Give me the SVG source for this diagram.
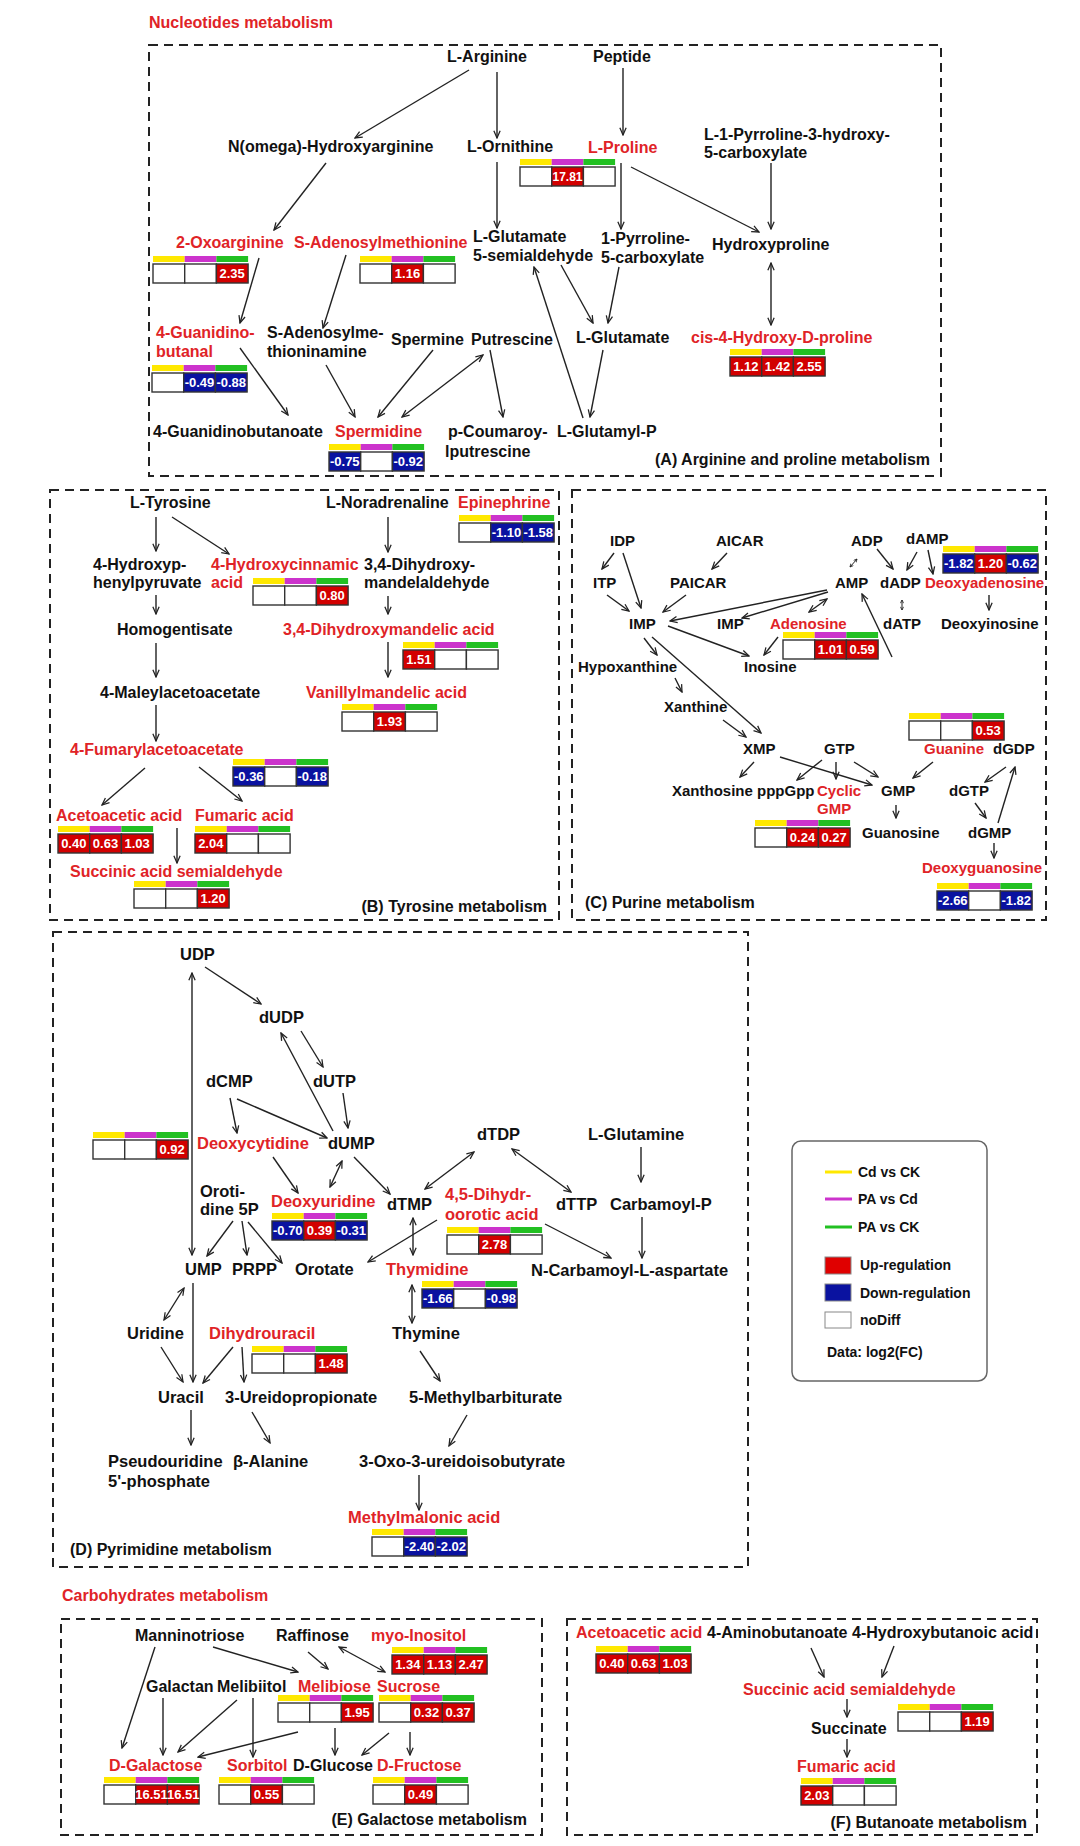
<svg xmlns="http://www.w3.org/2000/svg" xmlns:xlink="http://www.w3.org/1999/xlink" width="1080" height="1846" viewBox="0 0 1080 1846">
<style>
text{font-family:"Liberation Sans",Arial,sans-serif;font-weight:bold;font-size:16px;fill:#111}
.r{fill:#e02327}
.h{fill:#e02327}
.s15{font-size:15px}
.s165{font-size:16.5px}
.lg{font-size:14px}
.v{font-size:13px;fill:#fff;text-anchor:middle}
.end{text-anchor:end}
.box{fill:none;stroke:#222;stroke-width:2;stroke-dasharray:9 6}
.c{stroke:#333;stroke-width:1.4}
.w{fill:#fff}
.u{fill:#d20000}
.d{fill:#0a12a0}
#edges line{stroke:#222;stroke-width:1.4;marker-end:url(#ah)}
#edges line.b{marker-start:url(#ah)}
#edges line.t{stroke-width:1;marker-end:url(#ahs);marker-start:url(#ahs)}
</style>
<defs>
<marker id="ah" viewBox="0 0 10 10" refX="9" refY="5" markerWidth="9" markerHeight="9" markerUnits="userSpaceOnUse" orient="auto-start-reverse">
<path d="M1,1.5 L9,5 L1,8.5" fill="none" stroke="#222" stroke-width="1.4"/>
</marker>
<marker id="ahs" viewBox="0 0 10 10" refX="9" refY="5" markerWidth="4" markerHeight="4" markerUnits="userSpaceOnUse" orient="auto-start-reverse">
<path d="M1,1 L9,5 L1,9" fill="none" stroke="#222" stroke-width="2"/>
</marker>
<g id="bars">
<rect x="0" y="0" width="31.7" height="6" fill="#ffe800"/>
<rect x="31.7" y="0" width="31.7" height="6" fill="#cc33cc"/>
<rect x="63.4" y="0" width="31.7" height="6" fill="#22c022"/>
</g>
</defs>
<rect width="1080" height="1846" fill="#fff"/>

<!-- section frames -->
<g id="frames">
<text class="r" x="149" y="28">Nucleotides metabolism</text>
<rect class="box" x="149" y="45" width="792" height="431"/>
<text class="end" x="930" y="465">(A) Arginine and proline metabolism</text>
<rect class="box" x="50" y="490" width="509" height="430"/>
<text class="end" x="547" y="912">(B) Tyrosine metabolism</text>
<rect class="box" x="572" y="490" width="474" height="430"/>
<text x="585" y="908">(C) Purine metabolism</text>
<rect class="box" x="53" y="932" width="695" height="635"/>
<text x="70" y="1555">(D) Pyrimidine metabolism</text>
<text class="r" x="62" y="1601">Carbohydrates metabolism</text>
<rect class="box" x="61" y="1619" width="481" height="216"/>
<text class="end" x="527" y="1825">(E) Galactose metabolism</text>
<rect class="box" x="567" y="1619" width="470" height="216"/>
<text class="end" x="1027" y="1828">(F) Butanoate metabolism</text>
</g>

<!-- legend -->
<g id="legend">
<rect x="792" y="1141" width="195" height="240" rx="9" fill="#fff" stroke="#666" stroke-width="1.5"/>
<line x1="825" y1="1172" x2="852" y2="1172" stroke="#ffe800" stroke-width="3"/>
<text class="lg" x="858" y="1177">Cd vs CK</text>
<line x1="825" y1="1199" x2="852" y2="1199" stroke="#cc33cc" stroke-width="3"/>
<text class="lg" x="858" y="1204">PA vs Cd</text>
<line x1="825" y1="1227" x2="852" y2="1227" stroke="#22c022" stroke-width="3"/>
<text class="lg" x="858" y="1232">PA vs CK</text>
<rect x="825" y="1257" width="26" height="17" fill="#e00000" stroke="#888"/>
<text class="lg" x="860" y="1270">Up-regulation</text>
<rect x="825" y="1284" width="26" height="17" fill="#0a12a0" stroke="#888"/>
<text class="lg" x="860" y="1298">Down-regulation</text>
<rect x="825" y="1312" width="26" height="16" fill="#fff" stroke="#888"/>
<text class="lg" x="860" y="1325">noDiff</text>
<text class="lg" x="827" y="1357">Data: log2(FC)</text>
</g>

<!-- connectors -->
<g id="edges">
<!-- A -->
<line x1="469" y1="70" x2="355" y2="138"/>
<line x1="497" y1="72" x2="497" y2="138"/>
<line x1="326" y1="163" x2="274" y2="230"/>
<line x1="497" y1="162" x2="497" y2="228"/>
<line x1="259" y1="258" x2="240" y2="323"/>
<line x1="346" y1="255" x2="323" y2="328"/>
<line x1="240" y1="348" x2="288" y2="415"/>
<line x1="326" y1="365" x2="355" y2="417"/>
<line x1="433" y1="350" x2="378" y2="417"/>
<line class="b" x1="402" y1="417" x2="483" y2="355"/>
<line x1="490" y1="350" x2="503" y2="417"/>
<line x1="623" y1="68" x2="623" y2="135"/>
<line x1="621" y1="163" x2="621" y2="229"/>
<line x1="631" y1="167" x2="759" y2="232"/>
<line x1="771" y1="163" x2="771" y2="229"/>
<line class="b" x1="771" y1="263" x2="771" y2="325"/>
<line x1="561" y1="265" x2="593" y2="323"/>
<line x1="619" y1="267" x2="608" y2="323"/>
<line x1="603" y1="350" x2="590" y2="417"/>
<line x1="583" y1="418" x2="534" y2="267"/>
<!-- B -->
<line x1="156" y1="517" x2="156" y2="551"/>
<line x1="172" y1="517" x2="229" y2="554"/>
<line x1="156" y1="595" x2="156" y2="614"/>
<line x1="156" y1="643" x2="156" y2="677"/>
<line x1="156" y1="705" x2="156" y2="741"/>
<line x1="145" y1="768" x2="102" y2="805"/>
<line x1="199" y1="767" x2="242" y2="801"/>
<line x1="177" y1="828" x2="177" y2="863"/>
<line x1="388" y1="517" x2="388" y2="552"/>
<line x1="388" y1="596" x2="388" y2="614"/>
<line x1="388" y1="642" x2="388" y2="677"/>
<!-- C -->
<line x1="614" y1="553" x2="602" y2="569"/>
<line x1="623" y1="553" x2="641" y2="608"/>
<line x1="727" y1="553" x2="712" y2="569"/>
<line x1="607" y1="595" x2="629" y2="611"/>
<line x1="686" y1="595" x2="663" y2="612"/>
<line x1="827" y1="590" x2="670" y2="621"/>
<line x1="828" y1="592" x2="742" y2="618"/>
<line class="b" x1="809" y1="612" x2="827" y2="599"/>
<line x1="668" y1="626" x2="749" y2="656"/>
<line x1="778" y1="637" x2="764" y2="655"/>
<line x1="892" y1="657" x2="862" y2="594"/>
<line x1="877" y1="549" x2="893" y2="569"/>
<line x1="917" y1="552" x2="907" y2="570"/>
<line x1="928" y1="550" x2="933" y2="574"/>
<line x1="989" y1="595" x2="989" y2="610"/>
<line class="t" x1="850" y1="567" x2="857" y2="559"/>
<line class="t" x1="902" y1="600" x2="902" y2="610"/>
<line x1="644" y1="638" x2="657" y2="655"/>
<line x1="652" y1="637" x2="761" y2="733"/>
<line x1="675" y1="678" x2="682" y2="692"/>
<line x1="723" y1="720" x2="746" y2="737"/>
<line x1="754" y1="762" x2="740" y2="777"/>
<line x1="780" y1="757" x2="872" y2="785"/>
<line x1="822" y1="760" x2="797" y2="780"/>
<line x1="836" y1="762" x2="836" y2="779"/>
<line x1="854" y1="762" x2="878" y2="777"/>
<line x1="933" y1="762" x2="913" y2="778"/>
<line x1="896" y1="805" x2="896" y2="818"/>
<line x1="1006" y1="767" x2="985" y2="782"/>
<line x1="975" y1="803" x2="986" y2="818"/>
<line x1="998" y1="823" x2="1015" y2="767"/>
<line x1="994" y1="843" x2="994" y2="858"/>
<!-- D -->
<line class="b" x1="192" y1="973" x2="192" y2="1255"/>
<line x1="205" y1="967" x2="261" y2="1004"/>
<line x1="333" y1="1131" x2="281" y2="1033"/>
<line x1="301" y1="1031" x2="323" y2="1067"/>
<line x1="343" y1="1093" x2="348" y2="1128"/>
<line x1="230" y1="1098" x2="237" y2="1133"/>
<line x1="237" y1="1099" x2="327" y2="1138"/>
<line x1="273" y1="1157" x2="298" y2="1193"/>
<line class="b" x1="342" y1="1161" x2="330" y2="1187"/>
<line x1="354" y1="1157" x2="390" y2="1194"/>
<line class="b" x1="425" y1="1189" x2="474" y2="1152"/>
<line class="b" x1="512" y1="1149" x2="571" y2="1192"/>
<line x1="641" y1="1147" x2="641" y2="1182"/>
<line x1="642" y1="1217" x2="642" y2="1258"/>
<line x1="545" y1="1224" x2="611" y2="1258"/>
<line x1="233" y1="1221" x2="207" y2="1256"/>
<line x1="242" y1="1221" x2="247" y2="1255"/>
<line x1="248" y1="1222" x2="282" y2="1263"/>
<line x1="437" y1="1220" x2="368" y2="1262"/>
<line class="b" x1="413" y1="1218" x2="413" y2="1255"/>
<line x1="193" y1="1283" x2="193" y2="1382"/>
<line class="b" x1="184" y1="1288" x2="164" y2="1320"/>
<line x1="161" y1="1347" x2="183" y2="1382"/>
<line x1="233" y1="1347" x2="203" y2="1383"/>
<line x1="242" y1="1347" x2="244" y2="1382"/>
<line x1="191" y1="1410" x2="191" y2="1445"/>
<line x1="252" y1="1412" x2="270" y2="1443"/>
<line class="b" x1="412" y1="1285" x2="412" y2="1323"/>
<line x1="420" y1="1351" x2="440" y2="1381"/>
<line x1="467" y1="1415" x2="449" y2="1446"/>
<line x1="419" y1="1475" x2="419" y2="1510"/>
<!-- E -->
<line x1="155" y1="1647" x2="122" y2="1748"/>
<line x1="213" y1="1647" x2="298" y2="1672"/>
<line x1="308" y1="1652" x2="328" y2="1669"/>
<line class="b" x1="339" y1="1647" x2="385" y2="1672"/>
<line x1="163" y1="1698" x2="163" y2="1755"/>
<line x1="237" y1="1700" x2="178" y2="1752"/>
<line x1="253" y1="1698" x2="253" y2="1757"/>
<line x1="298" y1="1732" x2="198" y2="1757"/>
<line x1="335" y1="1728" x2="335" y2="1755"/>
<line x1="389" y1="1733" x2="362" y2="1755"/>
<line x1="410" y1="1732" x2="410" y2="1755"/>
<!-- F -->
<line x1="811" y1="1648" x2="824" y2="1677"/>
<line x1="894" y1="1646" x2="882" y2="1677"/>
<line x1="847" y1="1699" x2="847" y2="1717"/>
<line x1="847" y1="1739" x2="847" y2="1757"/>
</g>

<!-- ===== A nodes ===== -->
<g id="n-arginine"><text x="447" y="62">L-Arginine</text></g>
<g id="n-peptide"><text x="593" y="62">Peptide</text></g>
<g id="n-nomega"><text x="228" y="152">N(omega)-Hydroxyarginine</text></g>
<g id="n-ornithine"><text x="467" y="152">L-Ornithine</text></g>
<g id="n-proline"><text class="r" x="588" y="153">L-Proline</text>
<g transform="translate(520,159)"><use href="#bars"/><rect class="c w" x="0" y="8" width="31.7" height="19"/><rect class="c u" x="31.7" y="8" width="31.7" height="19"/><rect class="c w" x="63.4" y="8" width="31.7" height="19"/><text class="v" x="47.5" y="22" style="font-size:12px">17.81</text></g></g>
<g id="n-l1pyrroline"><text x="704" y="140">L-1-Pyrroline-3-hydroxy-</text><text x="704" y="158">5-carboxylate</text></g>
<g id="n-oxoarginine"><text class="r" x="176" y="248">2-Oxoarginine</text>
<g transform="translate(153,256)"><use href="#bars"/><rect class="c w" x="0" y="8" width="31.7" height="19"/><rect class="c w" x="31.7" y="8" width="31.7" height="19"/><rect class="c u" x="63.4" y="8" width="31.7" height="19"/><text class="v" x="79.2" y="22">2.35</text></g></g>
<g id="n-sam"><text class="r" x="294" y="248">S-Adenosylmethionine</text>
<g transform="translate(360,256)"><use href="#bars"/><rect class="c w" x="0" y="8" width="31.7" height="19"/><rect class="c u" x="31.7" y="8" width="31.7" height="19"/><rect class="c w" x="63.4" y="8" width="31.7" height="19"/><text class="v" x="47.5" y="22">1.16</text></g></g>
<g id="n-glu5semi"><text x="473" y="242">L-Glutamate</text><text x="473" y="261">5-semialdehyde</text></g>
<g id="n-p5c"><text x="601" y="244">1-Pyrroline-</text><text x="601" y="263">5-carboxylate</text></g>
<g id="n-hydroxyproline"><text x="712" y="250">Hydroxyproline</text></g>
<g id="n-guanidinobutanal"><text class="r" x="156" y="338">4-Guanidino-</text><text class="r" x="156" y="357">butanal</text>
<g transform="translate(152,365)"><use href="#bars"/><rect class="c w" x="0" y="8" width="31.7" height="19"/><rect class="c d" x="31.7" y="8" width="31.7" height="19"/><rect class="c d" x="63.4" y="8" width="31.7" height="19"/><text class="v" x="47.5" y="22">-0.49</text><text class="v" x="79.2" y="22">-0.88</text></g></g>
<g id="n-sadenosylme"><text x="267" y="338">S-Adenosylme-</text><text x="267" y="357">thioninamine</text></g>
<g id="n-spermine"><text x="391" y="345">Spermine</text></g>
<g id="n-putrescine"><text x="471" y="345">Putrescine</text></g>
<g id="n-glutamate"><text x="576" y="343">L-Glutamate</text></g>
<g id="n-cis4"><text class="r" x="691" y="343">cis-4-Hydroxy-D-proline</text>
<g transform="translate(730,349)"><use href="#bars"/><rect class="c u" x="0" y="8" width="31.7" height="19"/><rect class="c u" x="31.7" y="8" width="31.7" height="19"/><rect class="c u" x="63.4" y="8" width="31.7" height="19"/><text class="v" x="15.8" y="22">1.12</text><text class="v" x="47.5" y="22">1.42</text><text class="v" x="79.2" y="22">2.55</text></g></g>
<g id="n-guanidinobutanoate"><text x="153" y="437">4-Guanidinobutanoate</text></g>
<g id="n-spermidine"><text class="r" x="335" y="437">Spermidine</text>
<g transform="translate(329,444)"><use href="#bars"/><rect class="c d" x="0" y="8" width="31.7" height="19"/><rect class="c w" x="31.7" y="8" width="31.7" height="19"/><rect class="c d" x="63.4" y="8" width="31.7" height="19"/><text class="v" x="15.8" y="22">-0.75</text><text class="v" x="79.2" y="22">-0.92</text></g></g>
<g id="n-coumaroyl"><text x="448" y="437">p-Coumaroy-</text><text x="445" y="457">lputrescine</text></g>
<g id="n-glutamylp"><text x="557" y="437">L-Glutamyl-P</text></g>

<!-- ===== B nodes ===== -->
<g id="n-tyrosine"><text x="130" y="508">L-Tyrosine</text></g>
<g id="n-noradrenaline"><text x="326" y="508">L-Noradrenaline</text></g>
<g id="n-epinephrine"><text class="r" x="458" y="508">Epinephrine</text>
<g transform="translate(459,515)"><use href="#bars"/><rect class="c w" x="0" y="8" width="31.7" height="19"/><rect class="c d" x="31.7" y="8" width="31.7" height="19"/><rect class="c d" x="63.4" y="8" width="31.7" height="19"/><text class="v" x="47.5" y="22">-1.10</text><text class="v" x="79.2" y="22">-1.58</text></g></g>
<g id="n-hpp"><text x="93" y="570">4-Hydroxyp-</text><text x="93" y="588">henylpyruvate</text></g>
<g id="n-hcinnamic"><text class="r" x="211" y="570">4-Hydroxycinnamic</text><text class="r" x="211" y="588">acid</text>
<g transform="translate(253,578)"><use href="#bars"/><rect class="c w" x="0" y="8" width="31.7" height="19"/><rect class="c w" x="31.7" y="8" width="31.7" height="19"/><rect class="c u" x="63.4" y="8" width="31.7" height="19"/><text class="v" x="79.2" y="22">0.80</text></g></g>
<g id="n-dhmald"><text x="364" y="570">3,4-Dihydroxy-</text><text x="364" y="588">mandelaldehyde</text></g>
<g id="n-homogentisate"><text x="117" y="635">Homogentisate</text></g>
<g id="n-dhma"><text class="r" x="283" y="635">3,4-Dihydroxymandelic acid</text>
<g transform="translate(403,642)"><use href="#bars"/><rect class="c u" x="0" y="8" width="31.7" height="19"/><rect class="c w" x="31.7" y="8" width="31.7" height="19"/><rect class="c w" x="63.4" y="8" width="31.7" height="19"/><text class="v" x="15.8" y="22">1.51</text></g></g>
<g id="n-maleyl"><text x="100" y="698">4-Maleylacetoacetate</text></g>
<g id="n-vma"><text class="r" x="306" y="698">Vanillylmandelic acid</text>
<g transform="translate(342,704)"><use href="#bars"/><rect class="c w" x="0" y="8" width="31.7" height="19"/><rect class="c u" x="31.7" y="8" width="31.7" height="19"/><rect class="c w" x="63.4" y="8" width="31.7" height="19"/><text class="v" x="47.5" y="22">1.93</text></g></g>
<g id="n-fumaryl"><text class="r" x="70" y="755">4-Fumarylacetoacetate</text>
<g transform="translate(233,759)"><use href="#bars"/><rect class="c d" x="0" y="8" width="31.7" height="19"/><rect class="c w" x="31.7" y="8" width="31.7" height="19"/><rect class="c d" x="63.4" y="8" width="31.7" height="19"/><text class="v" x="15.8" y="22">-0.36</text><text class="v" x="79.2" y="22">-0.18</text></g></g>
<g id="n-acetoacetic-b"><text class="r" x="56" y="821">Acetoacetic acid</text>
<g transform="translate(58,826)"><use href="#bars"/><rect class="c u" x="0" y="8" width="31.7" height="19"/><rect class="c u" x="31.7" y="8" width="31.7" height="19"/><rect class="c u" x="63.4" y="8" width="31.7" height="19"/><text class="v" x="15.8" y="22">0.40</text><text class="v" x="47.5" y="22">0.63</text><text class="v" x="79.2" y="22">1.03</text></g></g>
<g id="n-fumaric-b"><text class="r" x="195" y="821">Fumaric acid</text>
<g transform="translate(195,826)"><use href="#bars"/><rect class="c u" x="0" y="8" width="31.7" height="19"/><rect class="c w" x="31.7" y="8" width="31.7" height="19"/><rect class="c w" x="63.4" y="8" width="31.7" height="19"/><text class="v" x="15.8" y="22">2.04</text></g></g>
<g id="n-ssa-b"><text class="r" x="70" y="877">Succinic acid semialdehyde</text>
<g transform="translate(134,881)"><use href="#bars"/><rect class="c w" x="0" y="8" width="31.7" height="19"/><rect class="c w" x="31.7" y="8" width="31.7" height="19"/><rect class="c u" x="63.4" y="8" width="31.7" height="19"/><text class="v" x="79.2" y="22">1.20</text></g></g>

<!-- ===== C nodes ===== -->
<g id="n-idp"><text class="s15" x="610" y="546">IDP</text></g>
<g id="n-aicar"><text class="s15" x="716" y="546">AICAR</text></g>
<g id="n-adp"><text class="s15" x="851" y="546">ADP</text></g>
<g id="n-damp"><text class="s15" x="906" y="544">dAMP</text></g>
<g id="n-itp"><text class="s15" x="593" y="588">ITP</text></g>
<g id="n-paicar"><text class="s15" x="670" y="588">PAICAR</text></g>
<g id="n-amp"><text class="s15" x="835" y="588">AMP</text></g>
<g id="n-dadp"><text class="s15" x="880" y="588">dADP</text></g>
<g id="n-deoxyadenosine"><text class="s15 r" x="925" y="588">Deoxyadenosine</text>
<g transform="translate(943,546)"><use href="#bars"/><rect class="c d" x="0" y="8" width="31.7" height="19"/><rect class="c u" x="31.7" y="8" width="31.7" height="19"/><rect class="c d" x="63.4" y="8" width="31.7" height="19"/><text class="v" x="15.8" y="22">-1.82</text><text class="v" x="47.5" y="22">1.20</text><text class="v" x="79.2" y="22">-0.62</text></g></g>
<g id="n-imp1"><text class="s15" x="629" y="629">IMP</text></g>
<g id="n-imp2"><text class="s15" x="717" y="629">IMP</text></g>
<g id="n-adenosine"><text class="s15 r" x="770" y="629">Adenosine</text>
<g transform="translate(783,632)"><use href="#bars"/><rect class="c w" x="0" y="8" width="31.7" height="19"/><rect class="c u" x="31.7" y="8" width="31.7" height="19"/><rect class="c u" x="63.4" y="8" width="31.7" height="19"/><text class="v" x="47.5" y="22">1.01</text><text class="v" x="79.2" y="22">0.59</text></g></g>
<g id="n-datp"><text class="s15" x="883" y="629">dATP</text></g>
<g id="n-deoxyinosine"><text class="s15" x="941" y="629">Deoxyinosine</text></g>
<g id="n-hypoxanthine"><text class="s15" x="578" y="672">Hypoxanthine</text></g>
<g id="n-inosine"><text class="s15" x="744" y="672">Inosine</text></g>
<g id="n-xanthine"><text class="s15" x="664" y="712">Xanthine</text></g>
<g id="n-xmp"><text class="s15" x="743" y="754">XMP</text></g>
<g id="n-gtp"><text class="s15" x="824" y="754">GTP</text></g>
<g id="n-guanine"><text class="s15 r" x="924" y="754">Guanine</text>
<g transform="translate(909,713)"><use href="#bars"/><rect class="c w" x="0" y="8" width="31.7" height="19"/><rect class="c w" x="31.7" y="8" width="31.7" height="19"/><rect class="c u" x="63.4" y="8" width="31.7" height="19"/><text class="v" x="79.2" y="22">0.53</text></g></g>
<g id="n-dgdp"><text class="s15" x="993" y="754">dGDP</text></g>
<g id="n-xanthosine"><text class="s15" x="672" y="796">Xanthosine</text></g>
<g id="n-pppgpp"><text class="s15" x="757" y="796">pppGpp</text></g>
<g id="n-cgmp"><text class="s15 r" x="817" y="796">Cyclic</text><text class="s15 r" x="817" y="814">GMP</text>
<g transform="translate(755,820)"><use href="#bars"/><rect class="c w" x="0" y="8" width="31.7" height="19"/><rect class="c u" x="31.7" y="8" width="31.7" height="19"/><rect class="c u" x="63.4" y="8" width="31.7" height="19"/><text class="v" x="47.5" y="22">0.24</text><text class="v" x="79.2" y="22">0.27</text></g></g>
<g id="n-gmp"><text class="s15" x="881" y="796">GMP</text></g>
<g id="n-dgtp"><text class="s15" x="949" y="796">dGTP</text></g>
<g id="n-guanosine"><text class="s15" x="862" y="838">Guanosine</text></g>
<g id="n-dgmp"><text class="s15" x="968" y="838">dGMP</text></g>
<g id="n-deoxyguanosine"><text class="s15 r" x="922" y="873">Deoxyguanosine</text>
<g transform="translate(937,883)"><use href="#bars"/><rect class="c d" x="0" y="8" width="31.7" height="19"/><rect class="c w" x="31.7" y="8" width="31.7" height="19"/><rect class="c d" x="63.4" y="8" width="31.7" height="19"/><text class="v" x="15.8" y="22">-2.66</text><text class="v" x="79.2" y="22">-1.82</text></g></g>

<!-- ===== D nodes ===== -->
<g id="n-udp"><text class="s165" x="180" y="960">UDP</text></g>
<g id="n-dudp"><text class="s165" x="259" y="1023">dUDP</text></g>
<g id="n-dcmp"><text class="s165" x="206" y="1087">dCMP</text></g>
<g id="n-dutp"><text class="s165" x="313" y="1087">dUTP</text></g>
<g id="n-dtdp"><text class="s165" x="477" y="1140">dTDP</text></g>
<g id="n-glutamine"><text class="s165" x="588" y="1140">L-Glutamine</text></g>
<g id="n-deoxycytidine"><text class="s165 r" x="197" y="1149">Deoxycytidine</text>
<g transform="translate(93,1132)"><use href="#bars"/><rect class="c w" x="0" y="8" width="31.7" height="19"/><rect class="c w" x="31.7" y="8" width="31.7" height="19"/><rect class="c u" x="63.4" y="8" width="31.7" height="19"/><text class="v" x="79.2" y="22">0.92</text></g></g>
<g id="n-dump"><text class="s165" x="328" y="1149">dUMP</text></g>
<g id="n-orotidine"><text class="s165" x="200" y="1197">Oroti-</text><text class="s165" x="200" y="1215">dine 5P</text></g>
<g id="n-deoxyuridine"><text class="s165 r" x="271" y="1207">Deoxyuridine</text>
<g transform="translate(272,1213)"><use href="#bars"/><rect class="c d" x="0" y="8" width="31.7" height="19"/><rect class="c u" x="31.7" y="8" width="31.7" height="19"/><rect class="c d" x="63.4" y="8" width="31.7" height="19"/><text class="v" x="15.8" y="22">-0.70</text><text class="v" x="47.5" y="22">0.39</text><text class="v" x="79.2" y="22">-0.31</text></g></g>
<g id="n-dtmp"><text class="s165" x="387" y="1210">dTMP</text></g>
<g id="n-dhorotic"><text class="s165 r" x="445" y="1200">4,5-Dihydr-</text><text class="s165 r" x="445" y="1220">oorotic acid</text>
<g transform="translate(447,1227)"><use href="#bars"/><rect class="c w" x="0" y="8" width="31.7" height="19"/><rect class="c u" x="31.7" y="8" width="31.7" height="19"/><rect class="c w" x="63.4" y="8" width="31.7" height="19"/><text class="v" x="47.5" y="22">2.78</text></g></g>
<g id="n-dttp"><text class="s165" x="556" y="1210">dTTP</text></g>
<g id="n-carbamoylp"><text class="s165" x="610" y="1210">Carbamoyl-P</text></g>
<g id="n-ump"><text class="s165" x="185" y="1275">UMP</text></g>
<g id="n-prpp"><text class="s165" x="232" y="1275">PRPP</text></g>
<g id="n-orotate"><text class="s165" x="295" y="1275">Orotate</text></g>
<g id="n-thymidine"><text class="s165 r" x="386" y="1275">Thymidine</text>
<g transform="translate(422,1281)"><use href="#bars"/><rect class="c d" x="0" y="8" width="31.7" height="19"/><rect class="c w" x="31.7" y="8" width="31.7" height="19"/><rect class="c d" x="63.4" y="8" width="31.7" height="19"/><text class="v" x="15.8" y="22">-1.66</text><text class="v" x="79.2" y="22">-0.98</text></g></g>
<g id="n-ncarbamoyl"><text class="s165" x="531" y="1276">N-Carbamoyl-L-aspartate</text></g>
<g id="n-uridine"><text class="s165" x="127" y="1339">Uridine</text></g>
<g id="n-dihydrouracil"><text class="s165 r" x="209" y="1339">Dihydrouracil</text>
<g transform="translate(252,1346)"><use href="#bars"/><rect class="c w" x="0" y="8" width="31.7" height="19"/><rect class="c w" x="31.7" y="8" width="31.7" height="19"/><rect class="c u" x="63.4" y="8" width="31.7" height="19"/><text class="v" x="79.2" y="22">1.48</text></g></g>
<g id="n-thymine"><text class="s165" x="392" y="1339">Thymine</text></g>
<g id="n-uracil"><text class="s165" x="158" y="1403">Uracil</text></g>
<g id="n-ureidopropionate"><text class="s165" x="225" y="1403">3-Ureidopropionate</text></g>
<g id="n-methylbarbiturate"><text class="s165" x="409" y="1403">5-Methylbarbiturate</text></g>
<g id="n-pseudouridine"><text class="s165" x="108" y="1467">Pseudouridine</text><text class="s165" x="108" y="1487">5'-phosphate</text></g>
<g id="n-balanine"><text class="s165" x="233" y="1467">β-Alanine</text></g>
<g id="n-oxoureido"><text class="s165" x="359" y="1467">3-Oxo-3-ureidoisobutyrate</text></g>
<g id="n-methylmalonic"><text class="s165 r" x="348" y="1523">Methylmalonic acid</text>
<g transform="translate(372,1529)"><use href="#bars"/><rect class="c w" x="0" y="8" width="31.7" height="19"/><rect class="c d" x="31.7" y="8" width="31.7" height="19"/><rect class="c d" x="63.4" y="8" width="31.7" height="19"/><text class="v" x="47.5" y="22">-2.40</text><text class="v" x="79.2" y="22">-2.02</text></g></g>

<!-- ===== E nodes ===== -->
<g id="n-manninotriose"><text x="135" y="1641">Manninotriose</text></g>
<g id="n-raffinose"><text x="276" y="1641">Raffinose</text></g>
<g id="n-myoinositol"><text class="r" x="371" y="1641">myo-Inositol</text>
<g transform="translate(392,1647)"><use href="#bars"/><rect class="c u" x="0" y="8" width="31.7" height="19"/><rect class="c u" x="31.7" y="8" width="31.7" height="19"/><rect class="c u" x="63.4" y="8" width="31.7" height="19"/><text class="v" x="15.8" y="22">1.34</text><text class="v" x="47.5" y="22">1.13</text><text class="v" x="79.2" y="22">2.47</text></g></g>
<g id="n-galactan"><text x="146" y="1692">Galactan</text></g>
<g id="n-melibiitol"><text x="217" y="1692">Melibiitol</text></g>
<g id="n-melibiose"><text class="r" x="298" y="1692">Melibiose</text>
<g transform="translate(278,1695)"><use href="#bars"/><rect class="c w" x="0" y="8" width="31.7" height="19"/><rect class="c w" x="31.7" y="8" width="31.7" height="19"/><rect class="c u" x="63.4" y="8" width="31.7" height="19"/><text class="v" x="79.2" y="22">1.95</text></g></g>
<g id="n-sucrose"><text class="r" x="377" y="1692">Sucrose</text>
<g transform="translate(379,1695)"><use href="#bars"/><rect class="c w" x="0" y="8" width="31.7" height="19"/><rect class="c u" x="31.7" y="8" width="31.7" height="19"/><rect class="c u" x="63.4" y="8" width="31.7" height="19"/><text class="v" x="47.5" y="22">0.32</text><text class="v" x="79.2" y="22">0.37</text></g></g>
<g id="n-dgalactose"><text class="r" x="109" y="1771">D-Galactose</text>
<g transform="translate(104,1777)"><use href="#bars"/><rect class="c w" x="0" y="8" width="31.7" height="19"/><rect class="c u" x="31.7" y="8" width="31.7" height="19"/><rect class="c u" x="63.4" y="8" width="31.7" height="19"/><text class="v" x="47.5" y="22">16.51</text><text class="v" x="79.2" y="22">16.51</text></g></g>
<g id="n-sorbitol"><text class="r" x="227" y="1771">Sorbitol</text>
<g transform="translate(219,1777)"><use href="#bars"/><rect class="c w" x="0" y="8" width="31.7" height="19"/><rect class="c u" x="31.7" y="8" width="31.7" height="19"/><rect class="c w" x="63.4" y="8" width="31.7" height="19"/><text class="v" x="47.5" y="22">0.55</text></g></g>
<g id="n-dglucose"><text x="293" y="1771">D-Glucose</text></g>
<g id="n-dfructose"><text class="r" x="377" y="1771">D-Fructose</text>
<g transform="translate(373,1777)"><use href="#bars"/><rect class="c w" x="0" y="8" width="31.7" height="19"/><rect class="c u" x="31.7" y="8" width="31.7" height="19"/><rect class="c w" x="63.4" y="8" width="31.7" height="19"/><text class="v" x="47.5" y="22">0.49</text></g></g>

<!-- ===== F nodes ===== -->
<g id="n-acetoacetic-f"><text class="r" x="576" y="1638">Acetoacetic acid</text>
<g transform="translate(596,1646)"><use href="#bars"/><rect class="c u" x="0" y="8" width="31.7" height="19"/><rect class="c u" x="31.7" y="8" width="31.7" height="19"/><rect class="c u" x="63.4" y="8" width="31.7" height="19"/><text class="v" x="15.8" y="22">0.40</text><text class="v" x="47.5" y="22">0.63</text><text class="v" x="79.2" y="22">1.03</text></g></g>
<g id="n-aminobutanoate"><text x="707" y="1638">4-Aminobutanoate</text></g>
<g id="n-hydroxybutanoic"><text x="852" y="1638">4-Hydroxybutanoic acid</text></g>
<g id="n-ssa-f"><text class="r" x="743" y="1695">Succinic acid semialdehyde</text>
<g transform="translate(898,1704)"><use href="#bars"/><rect class="c w" x="0" y="8" width="31.7" height="19"/><rect class="c w" x="31.7" y="8" width="31.7" height="19"/><rect class="c u" x="63.4" y="8" width="31.7" height="19"/><text class="v" x="79.2" y="22">1.19</text></g></g>
<g id="n-succinate"><text x="811" y="1734">Succinate</text></g>
<g id="n-fumaric-f"><text class="r" x="797" y="1772">Fumaric acid</text>
<g transform="translate(801,1778)"><use href="#bars"/><rect class="c u" x="0" y="8" width="31.7" height="19"/><rect class="c w" x="31.7" y="8" width="31.7" height="19"/><rect class="c w" x="63.4" y="8" width="31.7" height="19"/><text class="v" x="15.8" y="22">2.03</text></g></g>
</svg>
